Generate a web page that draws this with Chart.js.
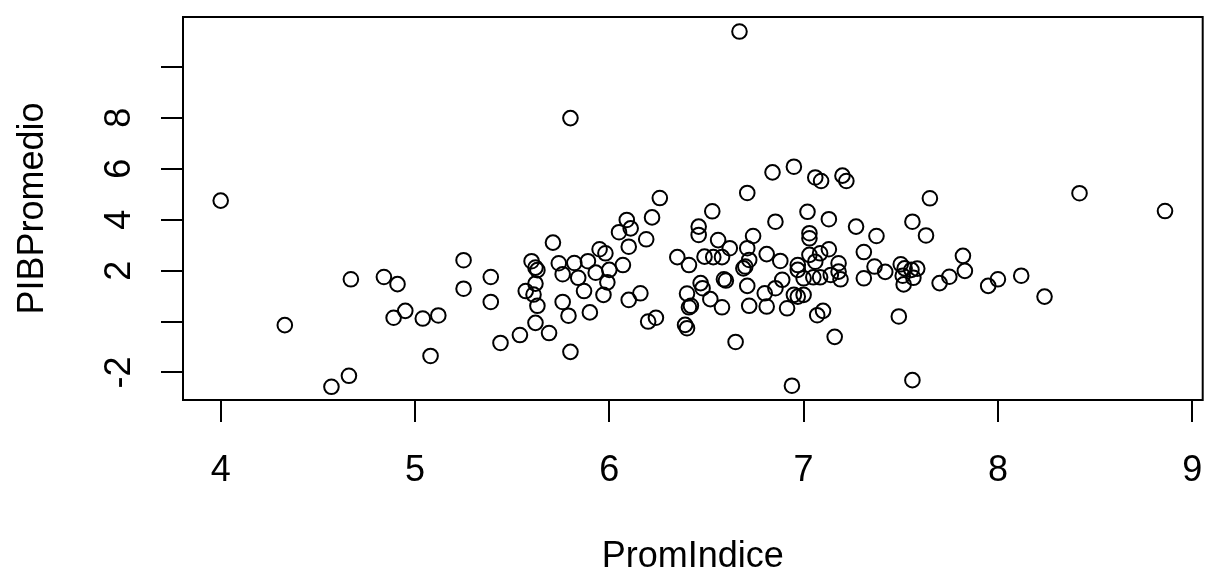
<!DOCTYPE html>
<html>
<head>
<meta charset="utf-8">
<script src="https://cdn.jsdelivr.net/npm/chart.js@4.4.1/dist/chart.umd.min.js"></script>
<style>
  body { margin: 0; background: #fff; }
  canvas { display: block; }
</style>
</head>
<body>
<canvas id="plot" width="1212" height="570"></canvas>
<script>
// PromIndice (x) and PIBPromedio (y)
var promIndice = [
  4.00, 4.33, 4.57, 4.66, 4.67, 4.84, 4.91, 4.89, 4.95, 5.04,
  5.12, 5.08, 5.25, 5.25, 5.39, 5.39, 5.44, 5.54, 5.57, 5.60,
  5.62, 5.63, 5.62, 5.61, 5.63, 5.62, 5.69, 5.71, 5.74, 5.76,
  5.76, 5.79, 5.80, 5.82, 5.84, 5.87, 5.90, 5.89, 5.80, 5.93,
  6.00, 6.07, 5.95, 5.98, 6.10, 6.05, 6.09, 6.11, 6.22, 6.19,
  6.26, 5.99, 5.97, 6.10, 6.16, 6.20, 6.24, 6.35, 6.41, 6.46,
  6.46, 6.53, 6.56, 6.49, 6.535, 6.58, 6.62, 6.59, 6.60, 6.47,
  6.48, 6.40, 6.42, 6.41, 6.52, 6.58, 6.39, 6.40, 6.65, 6.67,
  6.71, 6.84, 6.95, 7.06, 7.09, 7.20, 7.22, 6.74, 6.71, 6.72,
  6.69, 6.70, 6.81, 6.88, 6.97, 6.855, 6.71, 6.72, 6.80, 6.81,
  6.855, 6.89, 6.915, 6.95, 6.97, 7.00, 6.94, 7.02, 7.13, 7.03,
  7.03, 7.27, 7.375, 7.56, 7.63, 7.65, 7.13, 7.03, 7.06, 7.085,
  7.18, 7.18, 7.19, 7.14, 7.085, 7.05, 7.00, 6.97, 7.31, 7.31,
  7.365, 7.42, 7.50, 7.52, 7.555, 7.585, 7.51, 7.565, 7.515, 7.07,
  7.10, 7.49, 7.16, 7.56, 7.70, 7.75, 7.82, 7.83, 7.95, 8.00,
  8.12, 8.24, 8.42, 8.86
];
var pibPromedio = [
  4.75, -0.14, -2.56, -2.13, 1.66, 1.75, 1.47, 0.15, 0.42, 0.12,
  0.24, -1.35, 2.41, 1.29, 1.75, 0.77, -0.84, -0.53, 1.20, 2.37,
  2.12, 2.02, 1.49, 1.06, 0.62, -0.05, -0.45, 3.10, 2.29, 1.86,
  0.77, 0.23, -1.19, 2.30, 1.72, 1.20, 0.36, 2.37, 7.99, 1.92,
  2.03, 2.22, 2.84, 2.68, 2.94, 3.51, 3.99, 3.66, 4.09, 3.23,
  4.85, 1.54, 1.05, 0.85, 1.11, 0.00, 0.15, 2.53, 2.22, 3.73,
  3.40, 4.33, 3.20, 2.55, 2.53, 2.53, 2.88, 1.66, 1.61, 1.51,
  1.31, 1.10, 0.62, 0.56, 0.88, 0.56, -0.13, -0.26, -0.80, 11.39,
  5.05, 5.86, 6.08, 5.66, 5.52, 5.73, 5.52, 3.36, 2.88, 2.42,
  2.09, 2.16, 2.65, 2.38, 2.22, 3.92, 1.40, 0.62, 1.11, 0.59,
  1.31, 1.64, 0.52, 1.05, 0.98, 1.05, -2.52, 4.31, 4.02, 3.47,
  3.27, 3.73, 3.36, 3.92, 3.38, 4.84, 2.84, 2.62, 2.35, 2.68,
  2.29, 1.96, 1.66, 1.83, 1.74, 1.74, 1.70, 2.03, 2.73, 1.70,
  2.16, 1.95, 2.25, 2.09, 2.03, 2.08, 1.80, 1.72, 1.46, 0.25,
  0.42, 0.20, -0.60, -2.30, 1.51, 1.76, 2.58, 1.99, 1.40, 1.66,
  1.80, 0.98, 5.04, 4.34
];

var xTicks = [4, 5, 6, 7, 8, 9];
var yTicks = [-2, 0, 2, 4, 6, 8, 10];
var yTickLabels = ['-2', '', '2', '4', '6', '8', ''];
var xTitle = 'PromIndice';
var yTitle = 'PIBPromedio';

var FONT = '36px "Liberation Sans", Arial, Helvetica, sans-serif';

var points = [];
for (var i = 0; i < promIndice.length; i++) {
  points.push({ x: promIndice[i], y: pibPromedio[i] });
}

// box round the plot region, plus axis labels and titles in R style
var rFrame = {
  id: 'rFrame',
  afterDraw: function (chart) {
    var ctx = chart.ctx;
    var a = chart.chartArea;
    var xs = chart.scales.x;
    var ys = chart.scales.y;
    ctx.save();
    ctx.strokeStyle = '#000';
    ctx.lineWidth = 2;
    ctx.strokeRect(a.left, a.top, a.right - a.left, a.bottom - a.top);

    ctx.fillStyle = '#000';
    ctx.font = FONT;
    ctx.textAlign = 'center';
    ctx.textBaseline = 'alphabetic';
    xTicks.forEach(function (v) {
      ctx.fillText(String(v), xs.getPixelForValue(v), a.bottom + 81);
    });
    ctx.fillText(xTitle, (a.left + a.right) / 2, a.bottom + 167);

    yTicks.forEach(function (v, k) {
      if (!yTickLabels[k]) return;
      ctx.save();
      ctx.translate(a.left - 53, ys.getPixelForValue(v));
      ctx.rotate(-Math.PI / 2);
      ctx.fillText(yTickLabels[k], 0, 0);
      ctx.restore();
    });
    ctx.save();
    ctx.translate(a.left - 140, (a.top + a.bottom) / 2);
    ctx.rotate(-Math.PI / 2);
    ctx.fillText(yTitle, 0, 0);
    ctx.restore();
    ctx.restore();
  }
};

var tickGrid = {
  drawOnChartArea: false,
  drawTicks: true,
  tickLength: 22,
  color: '#000',
  lineWidth: 2
};

new Chart(document.getElementById('plot'), {
  type: 'scatter',
  data: {
    datasets: [{
      data: points,
      pointStyle: 'circle',
      pointRadius: 7.3,
      pointHoverRadius: 7.3,
      pointBorderWidth: 2,
      pointBorderColor: '#000',
      pointBackgroundColor: 'rgba(0,0,0,0)',
      clip: false
    }]
  },
  options: {
    responsive: false,
    animation: false,
    events: [],
    layout: { padding: { top: 17, right: 2, left: 0, bottom: 0 } },
    plugins: { legend: { display: false }, tooltip: { enabled: false } },
    scales: {
      x: {
        type: 'linear',
        min: 3.806,
        max: 9.054,
        afterBuildTicks: function (s) { s.ticks = xTicks.map(function (v) { return { value: v }; }); },
        afterFit: function (s) { s.height = 170; },
        grid: tickGrid,
        border: { display: false },
        ticks: { display: false }
      },
      y: {
        type: 'linear',
        min: -3.08,
        max: 11.96,
        afterBuildTicks: function (s) { s.ticks = yTicks.map(function (v) { return { value: v }; }); },
        afterFit: function (s) { s.width = 183; },
        grid: tickGrid,
        border: { display: false },
        ticks: { display: false }
      }
    }
  },
  plugins: [rFrame]
});
</script>
</body>
</html>
